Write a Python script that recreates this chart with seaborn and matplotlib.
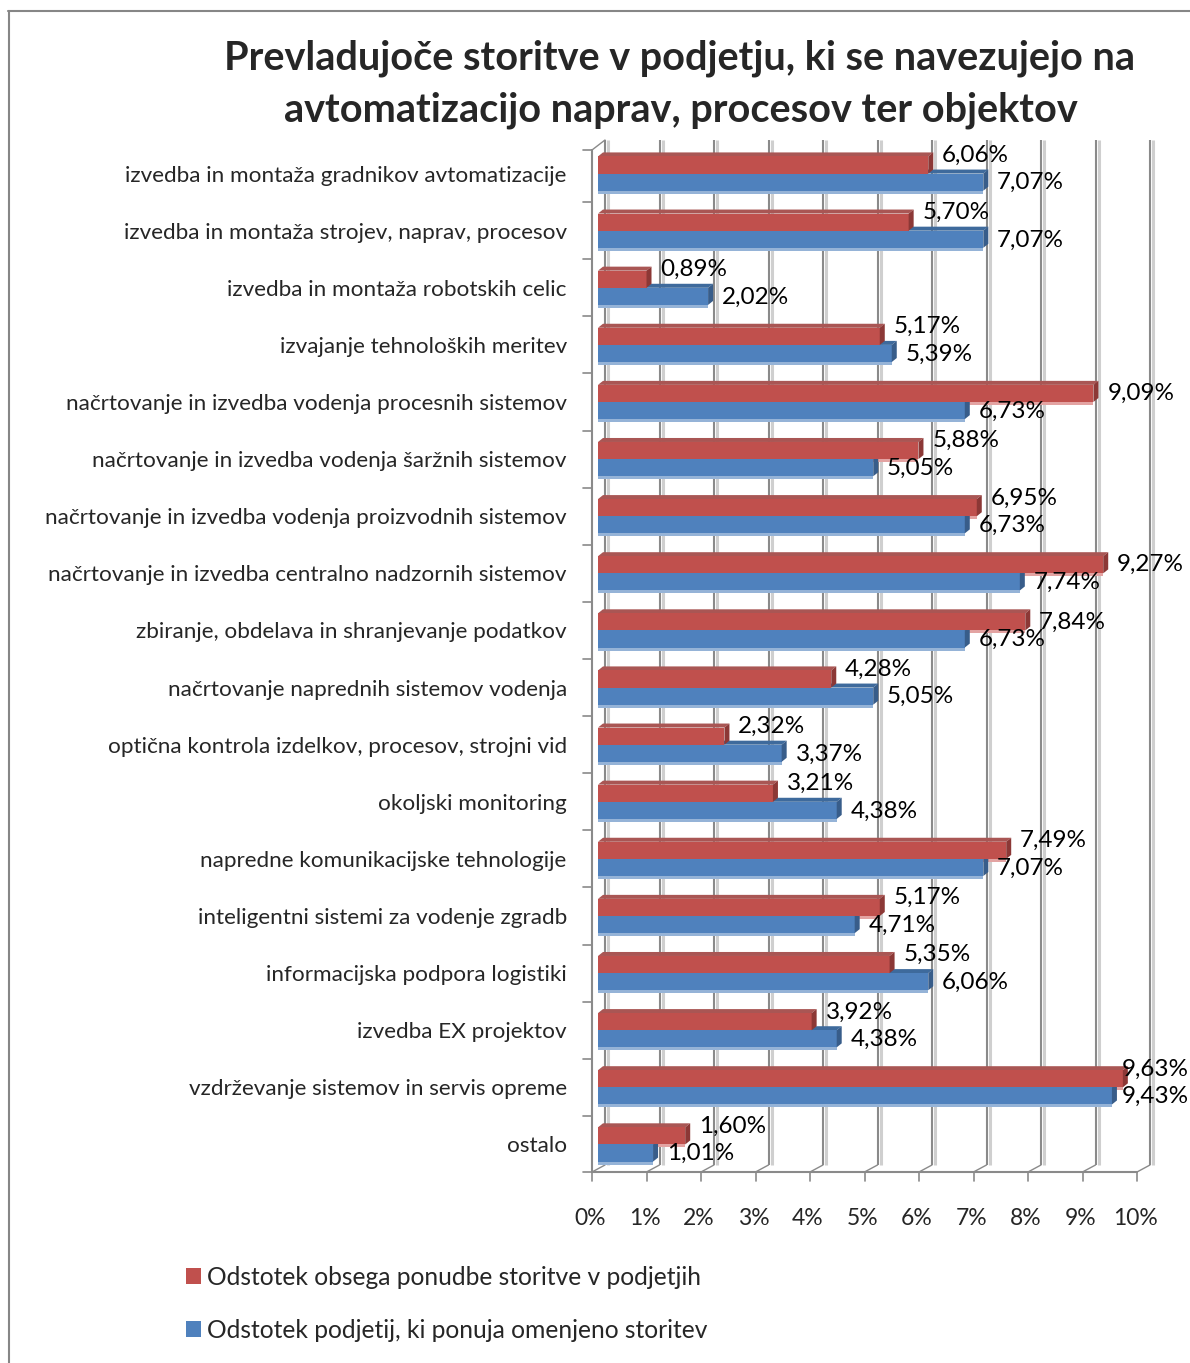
import matplotlib
matplotlib.use("Agg")
import matplotlib.pyplot as plt
import matplotlib.patches as mpatches
import matplotlib.transforms as mtransforms
import pandas as pd
import seaborn as sns

# --- data -------------------------------------------------------------
kategorije = [
    "izvedba in montaža gradnikov avtomatizacije",
    "izvedba in montaža strojev, naprav, procesov",
    "izvedba in montaža robotskih celic",
    "izvajanje tehnoloških meritev",
    "načrtovanje in izvedba vodenja procesnih sistemov",
    "načrtovanje in izvedba vodenja šaržnih sistemov",
    "načrtovanje in izvedba vodenja proizvodnih sistemov",
    "načrtovanje in izvedba centralno nadzornih sistemov",
    "zbiranje, obdelava in shranjevanje podatkov",
    "načrtovanje naprednih sistemov vodenja",
    "optična kontrola izdelkov, procesov, strojni vid",
    "okoljski monitoring",
    "napredne komunikacijske tehnologije",
    "inteligentni sistemi za vodenje zgradb",
    "informacijska podpora logistiki",
    "izvedba EX projektov",
    "vzdrževanje sistemov in servis opreme",
    "ostalo",
]
obseg_ponudbe = [6.06, 5.70, 0.89, 5.17, 9.09, 5.88, 6.95, 9.27, 7.84,
                 4.28, 2.32, 3.21, 7.49, 5.17, 5.35, 3.92, 9.63, 1.60]
delez_podjetij = [7.07, 7.07, 2.02, 5.39, 6.73, 5.05, 6.73, 7.74, 6.73,
                  5.05, 3.37, 4.38, 7.07, 4.71, 6.06, 4.38, 9.43, 1.01]
serije = ["Odstotek obsega ponudbe storitve v podjetjih",
          "Odstotek podjetij, ki ponuja omenjeno storitev"]
x_ticks = list(range(0, 11))
x_tick_labels = [f"{t}%" for t in x_ticks]
naslov = ["Prevladujoče storitve v podjetju, ki se navezujejo na",
          "avtomatizacijo naprav, procesov ter objektov"]

df = pd.DataFrame({
    "kategorija": kategorije * 2,
    "vrednost": obseg_ponudbe + delez_podjetij,
    "serija": [serije[0]] * len(kategorije) + [serije[1]] * len(kategorije),
})

RED, BLUE = "#C0504D", "#4F81BD"
RED_END, BLUE_END = "#8C3836", "#385D8A"
RED_TOP, BLUE_TOP = "#A95654", "#3E6A9C"
RED_LOW, BLUE_LOW = "#E3A3A2", "#95B3D7"
GRID = "#8A8A8A"

sns.set_theme(style="white")
plt.rcParams["font.family"] = ["Lato", "DejaVu Sans"]

W, H = 1190, 1363
fig = plt.figure(figsize=(W / 100, H / 100), dpi=100)

# plot area in pixels
AX_L, AX_R, AX_T, AX_B = 598, 1143, 145, 1173
ax = fig.add_axes([AX_L / W, 1 - AX_B / H, (AX_R - AX_L) / W, (AX_B - AX_T) / H])

sns.barplot(data=df, y="kategorija", x="vrednost", hue="serija",
            orient="h", width=0.6, palette=[RED, BLUE], saturation=1,
            linewidth=0, ax=ax)
handles, labels = ax.get_legend_handles_labels()
ax.get_legend().remove()

n = len(kategorije)
ax.set_xlim(0, 10)
ax.set_ylim(n - 0.5, -0.5)

PX_X = (AX_R - AX_L) / 10.0       # pixels per percent
PX_Y = (AX_B - AX_T) / n          # pixels per category


def dx(px):
    return px / PX_X


def dy(px):
    return px / PX_Y


def x_of(px):
    return (px - AX_L) / PX_X


def y_of(px):
    return (px - AX_T) / PX_Y - 0.5


# --- 3D look of the bars ----------------------------------------------
depth_x, depth_y = dx(5), dy(4)
styles = [
    dict(end=RED_END, top=RED_TOP, low=RED_LOW, z=3.0),
    dict(end=BLUE_END, top=BLUE_TOP, low=BLUE_LOW, z=2.0),
]
for cont, st in zip(ax.containers, styles):
    for bar in cont:
        bar.set_zorder(st["z"])
        x0 = bar.get_x()
        w = bar.get_width()
        y0 = bar.get_y()
        h = bar.get_height()
        y1 = y0 + h
        # top face
        ax.add_patch(mpatches.Polygon(
            [(x0, y0), (x0 + depth_x, y0 - depth_y), (w + depth_x, y0 - depth_y), (w, y0)],
            closed=True, facecolor=st["top"], edgecolor="none", zorder=st["z"] - 0.3))
        # end face
        ax.add_patch(mpatches.Polygon(
            [(w, y0), (w + depth_x, y0 - depth_y), (w + depth_x, y1 - depth_y), (w, y1)],
            closed=True, facecolor=st["end"], edgecolor="none", zorder=st["z"] + 0.1))
        # light reflection below the bar
        ax.add_patch(mpatches.Rectangle(
            (x0, y1), w, dy(3), facecolor=st["low"], edgecolor="none", zorder=1.0))

# --- value labels ------------------------------------------------------
def fmt(v):
    return f"{v:.2f}".replace(".", ",") + "%"


value_texts = []
for i, (r, b) in enumerate(zip(obseg_ponudbe, delez_podjetij)):
    red_bar = ax.containers[0][i]
    blue_bar = ax.containers[1][i]
    # the upper label moves up when it would crowd the lower one
    up = 0.0 if r - b > 1.0 else 7.0
    for bar, v, off in [(red_bar, r, up), (blue_bar, b, -0.5)]:
        yc = bar.get_y() + bar.get_height() / 2
        t = ax.annotate(fmt(v), xy=(v, yc), xytext=(10, off), textcoords="offset points",
                        ha="left", va="center", fontsize=17.5, color="black",
                        annotation_clip=False, zorder=5)
        value_texts.append(t)

# --- walls, floor and gridlines ---------------------------------------
for s in ax.spines.values():
    s.set_visible(False)
ax.grid(False)

back_dx = dx(7)
wall_top, wall_bot = y_of(140), y_of(1165)
front_top, front_bot = y_of(150), y_of(1172)
for t in x_ticks:
    xb = t + back_dx
    ax.plot([xb + dx(3), xb + dx(3)], [wall_bot, wall_top], color="#CFCFCF",
            lw=2.2, zorder=0.4, clip_on=False, solid_capstyle="butt")
    ax.plot([xb, xb], [wall_bot, wall_top], color=GRID,
            lw=1.5, zorder=0.5, clip_on=False, solid_capstyle="butt")
    # floor diagonals and ticks on the front edge
    xf = t - dx(6)
    ax.plot([xf, xb], [front_bot, wall_bot], color=GRID, lw=1.0,
            zorder=0.5, clip_on=False)
    ax.plot([xf, xf], [front_bot, y_of(1181)], color=GRID, lw=1.2,
            zorder=0.5, clip_on=False)

# front floor edge
ax.plot([-dx(6), 10 - dx(6)], [front_bot, front_bot], color=GRID,
        lw=1.5, zorder=0.5, clip_on=False)
# front left edge and its top corner
ax.plot([-dx(6), -dx(6)], [front_bot, front_top], color=GRID,
        lw=1.5, zorder=0.5, clip_on=False)
ax.plot([-dx(6), back_dx], [front_top, wall_top], color=GRID,
        lw=1.0, zorder=0.5, clip_on=False)
# category boundary ticks on the left edge
for i in range(n + 1):
    if i == 0:
        yb = front_top
    elif i == n:
        yb = front_bot
    else:
        yb = i - 0.5
    ax.plot([x_of(583), -dx(6)], [yb, yb], color=GRID, lw=1.2,
            zorder=0.5, clip_on=False)

# --- ticks -------------------------------------------------------------
ax.set_xticks(x_ticks)
ax.set_xticklabels(x_tick_labels, fontsize=16.5)
ax.tick_params(axis="x", length=0, pad=25)
ax.tick_params(axis="y", length=0, pad=22.5, labelsize=16.2)
ax.set_xlabel("")
ax.set_ylabel("")
shift = mtransforms.ScaledTranslation(-8 / 100, 0, fig.dpi_scale_trans)
for lab in ax.get_xticklabels():
    lab.set_transform(lab.get_transform() + shift)

# --- title -------------------------------------------------------------
fig.text(680 / W, 1 - 58 / H, naslov[0], ha="center", va="center",
         fontsize=28.5, fontweight="bold")
fig.text(681 / W, 1 - 110 / H, naslov[1], ha="center", va="center",
         fontsize=28.5, fontweight="bold")

# --- legend ------------------------------------------------------------
fig.legend(handles, labels, loc="upper left",
           bbox_to_anchor=(176 / W, 1 - 1256 / H), frameon=False,
           fontsize=17.7, handlelength=0.6, handleheight=0.6,
           handletextpad=0.25, labelspacing=1.22, borderaxespad=0)

# --- outer frame --------------------------------------------------------
fig.add_artist(plt.Line2D([8.5 / W, 8.5 / W], [0, 1 - 11 / H],
                          transform=fig.transFigure, color="#868686", lw=1.5))
fig.add_artist(plt.Line2D([8 / W, 1], [1 - 11 / H, 1 - 11 / H],
                          transform=fig.transFigure, color="#868686", lw=1.5))

# keep value labels inside the chart area
fig.canvas.draw()
renderer = fig.canvas.get_renderer()
for t in value_texts:
    bb = t.get_window_extent(renderer)
    over = bb.x1 - (W - 1)
    if over > 0:
        ox, oy = t.xyann
        t.xyann = (ox - over * 72 / fig.dpi, oy)

fig.savefig("out.png", dpi=100, facecolor="white")
